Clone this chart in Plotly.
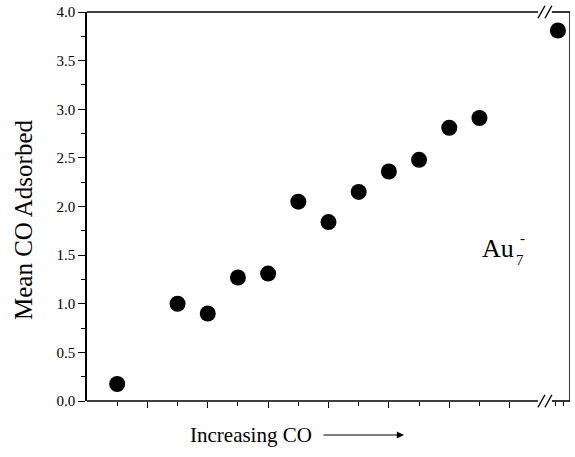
import plotly.graph_objects as go

# Data
positions = [1, 3, 4, 5, 6, 7, 8, 9, 10, 11, 12, 13, 15.6]
mean_co = [0.175, 1.0, 0.90, 1.27, 1.31, 2.05, 1.84, 2.15, 2.36, 2.48, 2.81, 2.91, 3.81]
y_ticks = [0.0, 0.5, 1.0, 1.5, 2.0, 2.5, 3.0, 3.5, 4.0]
x_major = [2, 4, 6, 8, 10, 12, 14]
x_minor = [1, 3, 5, 7, 9, 11, 13, 15.53, 15.77]

FONT = "Liberation Serif"
XMAX = 16.0
BREAK_L, BREAK_R = 14.94, 15.40
SL1 = (14.94, 15.17)
SL2 = (15.17, 15.40)

W, H = 575, 457
PL, PR, PT, PB = 87, 570, 12, 401
PW, PH = PR - PL, PB - PT


def px(xp):
    return (xp - PL) / PW


def py(yp):
    return (PB - yp) / PH


fig = go.Figure()
fig.add_trace(go.Scatter(
    x=positions, y=mean_co, mode="markers",
    marker=dict(size=16, color="black"),
    showlegend=False, cliponaxis=False,
))

line = dict(color="black", width=1.6)
shapes = []
for yv in (0, 1):
    shapes.append(dict(type="line", xref="x", yref="paper", x0=0, x1=BREAK_L, y0=yv, y1=yv, line=line))
    shapes.append(dict(type="line", xref="x", yref="paper", x0=BREAK_R, x1=XMAX, y0=yv, y1=yv, line=line))
shapes.append(dict(type="line", xref="x", yref="paper", x0=XMAX, x1=XMAX, y0=0, y1=1, line=line))
dy = 0.016
for yv in (0, 1):
    for (a, b) in (SL1, SL2):
        shapes.append(dict(type="line", xref="x", yref="paper", x0=a, x1=b,
                           y0=yv - dy, y1=yv + dy, line=dict(color="black", width=1.4)))

fig.update_layout(
    width=W, height=H,
    margin=dict(l=PL, r=W - PR, t=PT, b=H - PB),
    paper_bgcolor="white", plot_bgcolor="white",
    font=dict(family=FONT, color="black", size=15),
    shapes=shapes,
    xaxis=dict(range=[0, XMAX], showgrid=False, zeroline=False, showline=False,
               tickvals=x_major, ticks="outside", ticklen=6, tickwidth=1.3, tickcolor="black",
               showticklabels=False,
               minor=dict(tickvals=x_minor, ticks="outside", ticklen=4, tickwidth=1.2, tickcolor="black")),
    yaxis=dict(range=[0, 4.0], showgrid=False, zeroline=False, showline=True, linecolor="black",
               linewidth=1.6, tickvals=y_ticks, tickformat=".1f", ticks="outside", ticklen=7,
               tickwidth=1.3, tickcolor="black", tickfont=dict(family=FONT, size=15),
               ticklabeloverflow="allow",
               minor=dict(dtick=0.25, ticks="outside", ticklen=4, tickwidth=1.2, tickcolor="black")),
    annotations=[
        dict(text="Mean CO Adsorbed", xref="paper", yref="paper", x=px(24), y=py(220),
             xanchor="center", yanchor="middle",
             textangle=-90, showarrow=False, font=dict(family=FONT, size=25)),
        dict(text="Increasing CO", xref="paper", yref="paper", x=px(251), y=py(435),
             xanchor="center", yanchor="middle",
             showarrow=False, font=dict(family=FONT, size=21)),
        dict(text="", xref="paper", yref="paper", x=px(404), y=py(435), ax=-82, ay=0,
             showarrow=True, arrowhead=2, arrowsize=1.2, arrowwidth=1.2, arrowcolor="black"),
        dict(text="Au", xref="paper", yref="paper", x=px(498), y=py(248),
             xanchor="center", yanchor="middle",
             showarrow=False, font=dict(family=FONT, size=26)),
        dict(text="7", xref="paper", yref="paper", x=px(520), y=py(260),
             xanchor="center", yanchor="middle",
             showarrow=False, font=dict(family=FONT, size=15)),
        dict(text="-", xref="paper", yref="paper", x=px(522), y=py(238),
             xanchor="center", yanchor="middle",
             showarrow=False, font=dict(family=FONT, size=15)),
    ],
)

fig.write_html("out.html", config={"displayModeBar": False},
               post_script="document.body.style.margin='0';")
